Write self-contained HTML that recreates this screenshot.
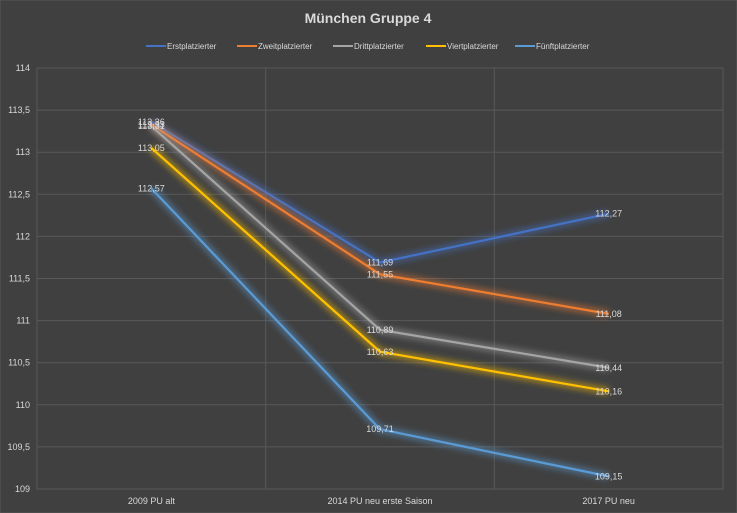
<!DOCTYPE html>
<html><head><meta charset="utf-8"><style>
body{margin:0;background:#404040;}
svg{display:block;font-family:"Liberation Sans",sans-serif;}
</style></head><body>
<svg id="chart" width="737" height="513">
<defs><filter id="glow" x="-20%" y="-20%" width="140%" height="140%"><feGaussianBlur stdDeviation="3"/></filter></defs>
<rect width="737" height="513" fill="#404040" stroke="#595959"/>
<text x="368" y="23" text-anchor="middle" font-size="14" font-weight="bold" fill="#d9d9d9">München Gruppe 4</text>
<g id="legend"></g>
<g id="grid"></g>
<g id="series"></g>
<g id="labels"></g>
</svg>
<script>
const categories=["2009 PU alt","2014 PU neu erste Saison","2017 PU neu"];
const seriesNames=["Erstplatzierter","Zweitplatzierter","Drittplatzierter","Viertplatzierter","Fünftplatzierter"];
const erst=[113.36,111.69,112.27];
const zweit=[113.33,111.55,111.08];
const dritt=[113.31,110.89,110.44];
const viert=[113.05,110.63,110.16];
const fuenft=[112.57,109.71,109.15];
const yTicks=[109,109.5,110,110.5,111,111.5,112,112.5,113,113.5,114];
const seriesData=[erst,zweit,dritt,viert,fuenft];
const colors=["#4472C4","#ED7D31","#A5A5A5","#FFC000","#5B9BD5"];
const NS="http://www.w3.org/2000/svg";
const x0=37,x1=723,yTop=68,yBot=489,yMin=109,yMax=114;
const xs=i=>x0+(x1-x0)/categories.length*(i+0.5);
const ys=v=>yBot-(v-yMin)/(yMax-yMin)*(yBot-yTop);
const fmt=v=>v.toString().replace('.',',');
function mk(t,a,p,txt){const e=document.createElementNS(NS,t);for(const k in a)e.setAttribute(k,a[k]);if(txt!==undefined)e.textContent=txt;p.appendChild(e);return e;}
const grid=document.getElementById('grid');
yTicks.forEach(v=>{
 const l=mk('line',{x1:x0,x2:x1,y1:ys(v),y2:ys(v),stroke:'#595959','stroke-width':1},grid);
 
 
 const t=mk('text',{x:30,y:ys(v)+3,'text-anchor':'end','font-size':9,fill:'#d9d9d9'},grid,fmt(v));
 
 
});
for(let i=0;i<=categories.length;i++){
 const x=x0+(x1-x0)/categories.length*i;
 const l=mk('line',{x1:x,x2:x,y1:yTop,y2:yBot,stroke:'#595959','stroke-width':1},grid);
 
 
}
categories.forEach((c,i)=>{
 const t=mk('text',{x:xs(i),y:504,'text-anchor':'middle','font-size':9,fill:'#d9d9d9'},grid,c);
 
 
});
const sg=document.getElementById('series'),lg=document.getElementById('labels');
seriesData.forEach((d,s)=>{
 const pts=d.map((v,i)=>xs(i)+','+ys(v)).join(' ');
 const g=mk('polyline',{points:pts,fill:'none',stroke:colors[s],'stroke-width':8,'stroke-opacity':0.45,filter:'url(#glow)'},sg);
 
 
 const p=mk('polyline',{points:pts,fill:'none',stroke:colors[s],'stroke-width':2.2,'stroke-linejoin':'round'},sg);
 
 
 d.forEach((v,i)=>{
  const t=mk('text',{x:xs(i),y:ys(v)+3,'text-anchor':'middle','font-size':9,fill:'#d9d9d9'},lg,fmt(v));
  
  
 });
});
const leg=document.getElementById('legend');
const lx=[146,237,333,426,515];
seriesNames.forEach((n,i)=>{
 const l=mk('line',{x1:lx[i],x2:lx[i]+20,y1:46,y2:46,stroke:colors[i],'stroke-width':2},leg);
 
 
 const t=mk('text',{x:lx[i]+21,y:49,'font-size':8,fill:'#d9d9d9'},leg,n);
 
 
});
</script>
</body></html>
